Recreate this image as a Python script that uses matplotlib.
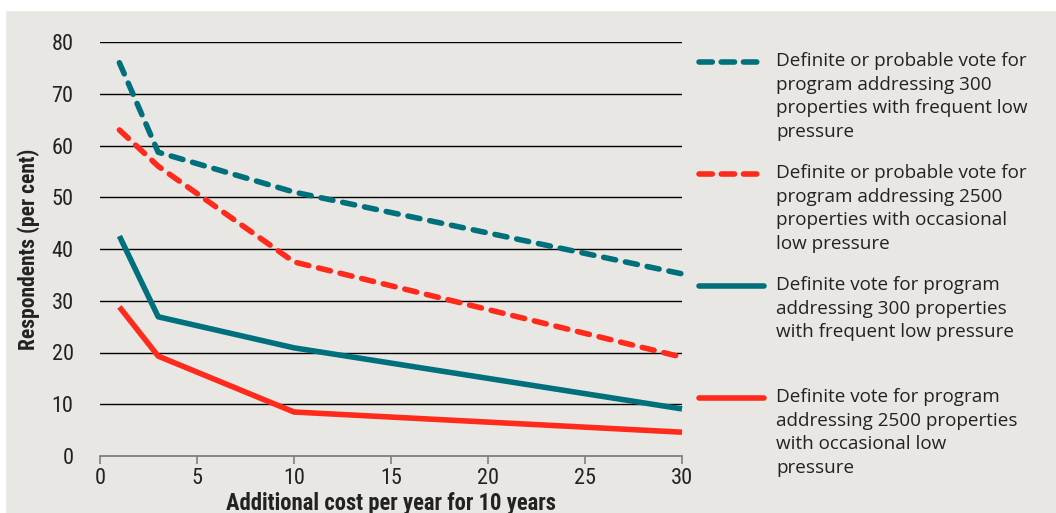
import matplotlib.pyplot as plt
from matplotlib.lines import Line2D
from matplotlib.patches import Rectangle
from matplotlib import font_manager

cost = [1, 3, 10, 30]
probable_300 = [76, 58.7, 51, 35.2]
probable_2500 = [63, 56, 37.5, 19.1]
definite_300 = [42.5, 26.9, 20.9, 9.1]
definite_2500 = [28.8, 19.3, 8.5, 4.6]

labels = [
    "Definite or probable vote for\nprogram addressing 300\nproperties with frequent low\npressure",
    "Definite or probable vote for\nprogram addressing 2500\nproperties with occasional\nlow pressure",
    "Definite vote for program\naddressing 300 properties\nwith frequent low pressure",
    "Definite vote for program\naddressing 2500 properties\nwith occasional low\npressure",
]

teal = "#00707c"
red = "#fe2a1c"
bg = "#e9e7e3"

names = {f.name for f in font_manager.fontManager.ttflist}
narrow = None
for cand in ["Liberation Sans Narrow", "DejaVu Sans Condensed", "Roboto Condensed",
             "Open Sans Condensed", "Noto Sans"]:
    if cand in names:
        narrow = [cand, "DejaVu Sans"]
        break
if narrow is None:
    narrow = ["DejaVu Sans"]

fig = plt.figure(figsize=(10.56, 5.13), dpi=100, facecolor=bg)
fig.add_artist(Rectangle((0, 1 - 10 / 513), 1, 10 / 513, transform=fig.transFigure,
                         color="white", zorder=0))
fig.add_artist(Rectangle((0, 0), 5 / 1056, 1, transform=fig.transFigure,
                         color="white", zorder=0))

ax = fig.add_axes([100 / 1056, 57 / 513, 582 / 1056, 414 / 513])
ax.set_facecolor(bg)
ax.set_xlim(0, 30)
ax.set_ylim(0, 80)
ax.set_yticks(range(0, 81, 10))
ax.set_xticks(range(0, 31, 5))
for y in range(10, 81, 10):
    ax.axhline(y, color="black", lw=1.0, zorder=1)
for s in ["left", "right", "top"]:
    ax.spines[s].set_visible(False)
ax.spines["bottom"].set_color("#7f7f7f")
ax.spines["bottom"].set_linewidth(1.3)
ax.tick_params(axis="y", length=0, pad=19)
ax.tick_params(axis="x", length=6, width=1.2, color="#7f7f7f", pad=3)
for t in ax.get_xticklabels() + ax.get_yticklabels():
    t.set_fontfamily(narrow)
    t.set_fontsize(16)
    t.set_color("#222222")

lw = 4.0
dash = (2.2, 1.8)
styles = [
    (probable_300, teal, "--"),
    (probable_2500, red, "--"),
    (definite_300, teal, "-"),
    (definite_2500, red, "-"),
]
for vals, c, ls in styles:
    line, = ax.plot(cost, vals, color=c, lw=lw, ls=ls, solid_capstyle="butt",
                    dash_capstyle="round", zorder=3, clip_on=False)
    if ls == "--":
        line.set_dashes(dash)

ax.set_ylabel("Respondents (per cent)", fontsize=15.5, fontweight="bold",
              fontfamily=narrow, color="#222222")
ax.yaxis.set_label_coords(-60 / 582, 0.5)
ax.set_xlabel("Additional cost per year for 10 years", fontsize=16.3,
              fontweight="bold", fontfamily=narrow, color="#222222")
ax.xaxis.set_label_coords(0.5, -36 / 414)

# legend drawn by hand to keep the spacing of the original
key_y = [62, 174, 286, 398]
for (vals, c, ls), lab, ky in zip(styles, labels, key_y):
    yf = 1 - ky / 513
    key = Line2D([699 / 1056, 764 / 1056], [yf, yf], transform=fig.transFigure,
                 color=c, lw=lw, ls=ls, solid_capstyle="round", dash_capstyle="round")
    if ls == "--":
        key.set_dashes((2.4, 1.6))
    fig.add_artist(key)
    fig.text(776 / 1056, 1 - (ky - 10) / 513, lab, fontsize=13.6, fontfamily="Open Sans",
             color="#222222", va="top", ha="left", linespacing=1.4)

fig.savefig("out.png", dpi=100, facecolor=bg)
